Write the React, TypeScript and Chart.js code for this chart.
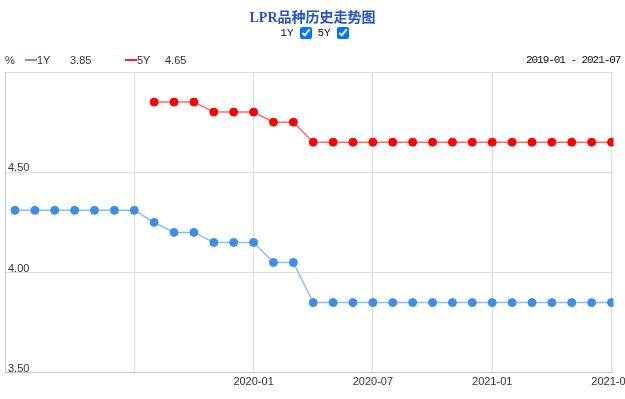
import React, { useEffect, useRef } from 'react';
import { Chart, registerables } from 'chart.js';
Chart.register(...registerables);

const months = [
  '2019-01', '2019-02', '2019-03', '2019-04', '2019-05', '2019-06', '2019-07', '2019-08', '2019-09', '2019-10', '2019-11', '2019-12',
  '2020-01', '2020-02', '2020-03', '2020-04', '2020-05', '2020-06', '2020-07', '2020-08', '2020-09', '2020-10', '2020-11', '2020-12',
  '2021-01', '2021-02', '2021-03', '2021-04', '2021-05', '2021-06', '2021-07',
];
const lpr1Y = [
  4.31, 4.31, 4.31, 4.31, 4.31, 4.31, 4.31, 4.25, 4.2, 4.2, 4.15, 4.15,
  4.15, 4.05, 4.05, 3.85, 3.85, 3.85, 3.85, 3.85, 3.85, 3.85, 3.85, 3.85,
  3.85, 3.85, 3.85, 3.85, 3.85, 3.85, 3.85,
];
const lpr5Y = [
  null, null, null, null, null, null, null, 4.85, 4.85, 4.85, 4.8, 4.8,
  4.8, 4.75, 4.75, 4.65, 4.65, 4.65, 4.65, 4.65, 4.65, 4.65, 4.65, 4.65,
  4.65, 4.65, 4.65, 4.65, 4.65, 4.65, 4.65,
];
const xTickMonths = ['2019-07', '2020-01', '2020-07', '2021-01', '2021-07'];
const hiddenXLabels = ['2019-07'];
const yTicks = [3.5, 4.0, 4.5, 5.0];
const hiddenYLabels = [5.0];
const latest1Y = '3.85';
const latest5Y = '4.65';
const dateRange = '2019-01 - 2021-07';

const sans = '"Liberation Sans", Arial, sans-serif';

export default function App() {
  const ref = useRef<HTMLCanvasElement>(null);
  useEffect(() => {
    document.body.style.margin = '0';
    document.body.style.overflow = 'hidden';
    const chart = new Chart(ref.current as HTMLCanvasElement, {
      type: 'line',
      data: {
        datasets: [
          {
            label: '1Y',
            data: lpr1Y.map((v, i) => ({ x: i, y: v })),
            borderColor: '#8fbdf0',
            backgroundColor: '#3d8ee8',
            pointBackgroundColor: '#3d8ee8',
            pointBorderColor: '#3d8ee8',
            pointRadius: 4,
            pointBorderWidth: 1,
            borderWidth: 1.5,
          },
          {
            label: '5Y',
            data: lpr5Y.map((v, i) => ({ x: i, y: v })),
            borderColor: '#ff6b6b',
            backgroundColor: '#ff0000',
            pointBackgroundColor: '#ff0000',
            pointBorderColor: '#ff0000',
            pointRadius: 4,
            pointBorderWidth: 1,
            borderWidth: 1.5,
          },
        ],
      },
      options: {
        animation: false,
        responsive: false,
        maintainAspectRatio: false,
        layout: { padding: { top: 72, left: 5, right: 46.5, bottom: 7 } },
        plugins: { legend: { display: false }, title: { display: false }, tooltip: { enabled: false } },
        scales: {
          x: {
            type: 'linear',
            min: -0.5,
            max: 30.1,
            afterBuildTicks: (s: any) => {
              s.ticks = xTickMonths.map((m) => ({ value: months.indexOf(m) }));
            },
            ticks: {
              autoSkip: false,
              maxRotation: 0,
              padding: 3,
              color: '#333',
              font: { family: sans, size: 11 },
              callback: (v: any) => (hiddenXLabels.includes(months[v]) ? '' : months[v]),
            },
            grid: { color: '#dddddd', drawTicks: false },
            border: { color: '#c3c6d2' },
          },
          y: {
            min: 3.5,
            max: 5.0,
            afterFit: (s: any) => {
              s.width = 0;
            },
            afterBuildTicks: (s: any) => {
              s.ticks = yTicks.map((v) => ({ value: v }));
            },
            ticks: {
              mirror: true,
              padding: 3,
              labelOffset: -4,
              color: '#333',
              font: { family: sans, size: 11 },
              callback: (v: any) => (hiddenYLabels.includes(v) ? '' : Number(v).toFixed(2)),
            },
            grid: { color: '#dddddd', drawTicks: false },
            border: { color: '#c3c6d2' },
          },
        },
      },
    });
    return () => chart.destroy();
  }, []);

  const legendText: React.CSSProperties = { position: 'absolute', top: 53, fontFamily: sans, fontSize: 11, color: '#333', lineHeight: '14px' };
  const line = (left: number, color: string): React.CSSProperties => ({ position: 'absolute', left, top: 59, width: 12, height: 1.5, background: color });

  return (
    <div style={{ position: 'relative', width: 625, height: 399, overflow: 'hidden', background: '#fff' }}>
      <canvas ref={ref} width={660} height={399} style={{ position: 'absolute', left: 0, top: 0, width: 660, height: 399 }} />
      <div style={{ position: 'absolute', left: 0, width: 625, top: 9, textAlign: 'center', fontFamily: '"Liberation Serif", "Noto Sans CJK SC", serif', fontWeight: 'bold', fontSize: 14, color: '#2453c6', lineHeight: '18px' }}>
        LPR品种历史走势图
      </div>
      <div style={{ position: 'absolute', left: 0, width: 625, top: 26, textAlign: 'center', fontFamily: '"Liberation Mono", monospace', fontSize: 11, color: '#111', lineHeight: '14px', display: 'flex', justifyContent: 'center', alignItems: 'center', gap: 4 }}>
        <span style={{ marginLeft: 6 }}>1Y</span>
        <input type="checkbox" checked readOnly style={{ width: 12, height: 12, margin: '0 2px 0 2px' }} />
        <span>5Y</span>
        <input type="checkbox" checked readOnly style={{ width: 12, height: 12, margin: '0 2px 0 2px' }} />
      </div>
      <div style={{ ...legendText, left: 5 }}>%</div>
      <div style={line(25, '#5a9fe8')} />
      <div style={{ ...legendText, left: 37 }}>1Y</div>
      <div style={{ ...legendText, left: 70 }}>{latest1Y}</div>
      <div style={line(125, '#ff2020')} />
      <div style={{ ...legendText, left: 137 }}>5Y</div>
      <div style={{ ...legendText, left: 165 }}>{latest5Y}</div>
      <div style={{ ...legendText, left: 526, fontFamily: '"Liberation Mono", monospace', letterSpacing: '-1.05px', color: '#111' }}>{dateRange}</div>
    </div>
  );
}
